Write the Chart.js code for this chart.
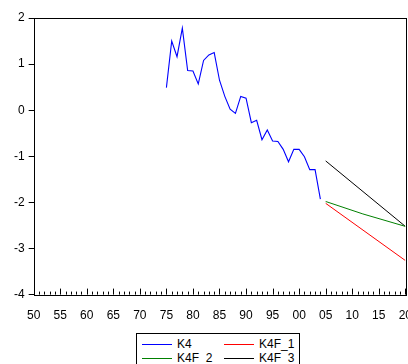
<!DOCTYPE html>
<html>
<head>
<meta charset="utf-8">
<script src="https://cdn.jsdelivr.net/npm/chart.js@4"></script>
<style>
  html, body { margin: 0; padding: 0; background: #fff; overflow: hidden; width: 408px; height: 364px; }
  #wrap { position: absolute; left: 0; top: 0; width: 418px; height: 329px; }
  #legend {
    position: absolute; left: 136px; top: 333px; width: 164px; height: 40px;
    border: 1px solid #000; box-sizing: border-box;
    font: 12px "Liberation Sans", Arial, sans-serif; color: #000;
  }
  .item { position: absolute; width: 80px; height: 14px; line-height: 14px; white-space: nowrap; }
  .item .line { position: absolute; left: 0; top: 7px; width: 30px; height: 1px; }
  .item .txt { position: absolute; left: 35px; top: 0; }
</style>
</head>
<body>
<div id="wrap"><canvas id="chart"></canvas></div>
<div id="legend"></div>
<script>
// history
const k4Years = [1975, 1976, 1977, 1978, 1979, 1980, 1981, 1982, 1983, 1984,
                 1985, 1986, 1987, 1988, 1989, 1990, 1991, 1992, 1993, 1994,
                 1995, 1996, 1997, 1998, 1999, 2000, 2001, 2002, 2003, 2004];
const k4 = [0.49, 1.50, 1.16, 1.78, 0.86, 0.85, 0.57, 1.08, 1.20, 1.25,
            0.65, 0.30, 0.02, -0.07, 0.30, 0.26, -0.27, -0.22, -0.64, -0.43,
            -0.67, -0.68, -0.85, -1.12, -0.85, -0.85, -1.01, -1.29, -1.29, -1.93];

// forecasts
const f1Years = [2005, 2020];
const k4f1 = [-2.02, -3.26];
const f2Years = [2005, 2012, 2020];
const k4f2 = [-1.98, -2.25, -2.52];
const f3Years = [2005, 2020];
const k4f3 = [-1.10, -2.52];

const seriesNames = ["K4", "K4F_1", "K4F_2", "K4F_3"];
const seriesColors = ["#0000ff", "#ff0000", "#008000", "#000000"];

const yTicks = [-4, -3, -2, -1, 0, 1, 2];

function pts(xs, ys) {
    return xs.map((x, i) => ({ x: x, y: ys[i] }));
}

// box and inward ticks on the bottom axis
const frame = {
    id: "frame",
    afterDatasetsDraw(chart) {
        const c = chart.ctx;
        const a = chart.chartArea;
        const xs = chart.scales.x;
        c.save();
        c.strokeStyle = "#000";
        c.lineWidth = 1;
        c.strokeRect(Math.round(a.left) + 0.5, Math.round(a.top) + 0.5,
                     Math.round(a.right - a.left), Math.round(a.bottom - a.top));
        c.beginPath();
        for (let yr = 1950; yr <= 2020; yr++) {
            const px = Math.round(xs.getPixelForValue(yr)) + 0.5;
            const len = yr % 5 === 0 ? 6 : 3;
            c.moveTo(px, a.bottom);
            c.lineTo(px, a.bottom - len);
        }
        c.stroke();
        c.restore();
    }
};

const ctx = document.getElementById("chart").getContext("2d");
const chart = new Chart(ctx, {
    type: "line",
    data: {
        datasets: [
            { label: seriesNames[0], data: pts(k4Years, k4), borderColor: seriesColors[0], borderWidth: 1.1 },
            { label: seriesNames[1], data: pts(f1Years, k4f1), borderColor: seriesColors[1], borderWidth: 1 },
            { label: seriesNames[2], data: pts(f2Years, k4f2), borderColor: seriesColors[2], borderWidth: 1 },
            { label: seriesNames[3], data: pts(f3Years, k4f3), borderColor: seriesColors[3], borderWidth: 1 }
        ]
    },
    options: {
        responsive: true,
        maintainAspectRatio: false,
        animation: false,
        events: [],
        elements: { point: { radius: 0 }, line: { tension: 0 } },
        layout: { padding: { left: 10, top: 18, right: 0, bottom: 0 } },
        plugins: { legend: { display: false }, tooltip: { enabled: false } },
        scales: {
            x: {
                type: "linear",
                min: 1950, max: 2020,
                grid: { display: false },
                border: { display: false },
                ticks: {
                    stepSize: 5,
                    color: "#000",
                    padding: 6,
                    maxRotation: 0,
                    autoSkip: false,
                    font: { family: "'Liberation Sans', Arial", size: 12 },
                    callback: v => String(v % 100).padStart(2, "0")
                }
            },
            y: {
                min: -4, max: 2,
                afterBuildTicks: s => { s.ticks = yTicks.map(v => ({ value: v })); },
                grid: { drawOnChartArea: false, tickLength: 5, color: "#000" },
                border: { display: false },
                ticks: {
                    color: "#000",
                    padding: 4,
                    font: { family: "'Liberation Sans', Arial", size: 12 }
                }
            }
        }
    },
    plugins: [frame]
});

// legend
const legend = document.getElementById("legend");
const spots = [[5, 3], [87, 3], [5, 17], [87, 17]];
seriesNames.forEach((name, i) => {
    const d = document.createElement("div");
    d.className = "item";
    d.style.left = spots[i][0] + "px";
    d.style.top = spots[i][1] + "px";
    d.innerHTML = `<div class="line" style="background:${seriesColors[i]}"></div><div class="txt">${name}</div>`;
    legend.appendChild(d);
});
</script>
</body>
</html>
